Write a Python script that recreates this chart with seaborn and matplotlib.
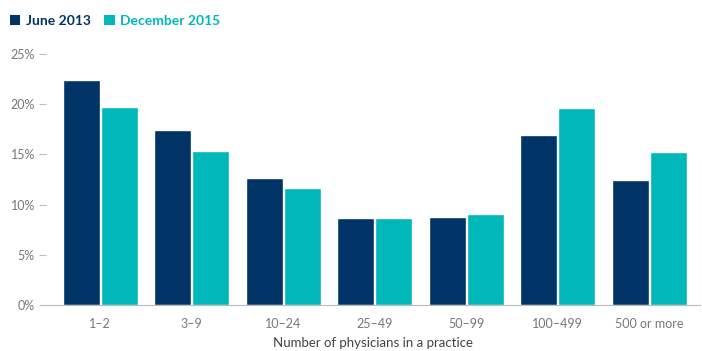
import matplotlib
matplotlib.use("Agg")
import matplotlib.pyplot as plt
import seaborn as sns
import pandas as pd
from matplotlib.patches import Patch

categories = ["1–2", "3–9", "10–24", "25–49", "50–99", "100–499", "500 or more"]
june_2013 = [22.4, 17.4, 12.65, 8.67, 8.77, 16.9, 12.45]
dec_2015 = [19.7, 15.35, 11.65, 8.67, 9.07, 19.6, 15.25]
series_names = ["June 2013", "December 2015"]
yticks = [0, 5, 10, 15, 20, 25]
ytick_labels = ["0%", "5%", "10%", "15%", "20%", "25%"]

df = pd.DataFrame({
    "category": categories * 2,
    "value": june_2013 + dec_2015,
    "series": [series_names[0]] * len(categories) + [series_names[1]] * len(categories),
})

navy = "#003366"
teal = "#00B8BA"
palette = {series_names[0]: navy, series_names[1]: teal}

sns.set_theme(style="white")
plt.rcParams["font.family"] = ["Lato", "DejaVu Sans"]

fig = plt.figure(figsize=(7.02, 3.51), dpi=100)
ax = fig.add_axes([46 / 702, 46 / 351, (700 - 46) / 702, (305 - 54) / 351])

sns.barplot(data=df, x="category", y="value", hue="series", order=categories,
            hue_order=series_names, palette=palette, width=0.83, gap=0.03,
            saturation=1, ax=ax, legend=False)

ax.set_xlim(-0.593, 6.554)
ax.set_ylim(0, 25)
ax.set_yticks(yticks)
ax.set_yticklabels(ytick_labels)
for s in ["top", "right", "left"]:
    ax.spines[s].set_visible(False)
ax.spines["bottom"].set_color("#bbbbbb")
ax.spines["bottom"].set_linewidth(0.8)
ax.tick_params(axis="y", which="both", left=True, length=5, width=0.8, color="#bbbbbb",
               labelsize=9, labelcolor="#777777", pad=3)
ax.tick_params(axis="x", bottom=False, labelsize=9, labelcolor="#777777", pad=3)
ax.set_ylabel("")
ax.set_xlabel("")
fig.text(373 / 702, (351 - 343) / 351, "Number of physicians in a practice",
         ha="center", va="center", fontsize=9.5, color="#444444")

handles = [Patch(facecolor=navy, edgecolor="none"), Patch(facecolor=teal, edgecolor="none")]
leg = fig.legend(handles, series_names, loc="upper left", bbox_to_anchor=(0.0, 0.985),
                 ncol=2, frameon=False, handlelength=0.75, handleheight=0.75,
                 handletextpad=0.4, columnspacing=1.0, labelcolor=[navy, teal],
                 borderaxespad=0.3, prop={"weight": "bold", "size": 10})

fig.savefig("out.png", dpi=100)
